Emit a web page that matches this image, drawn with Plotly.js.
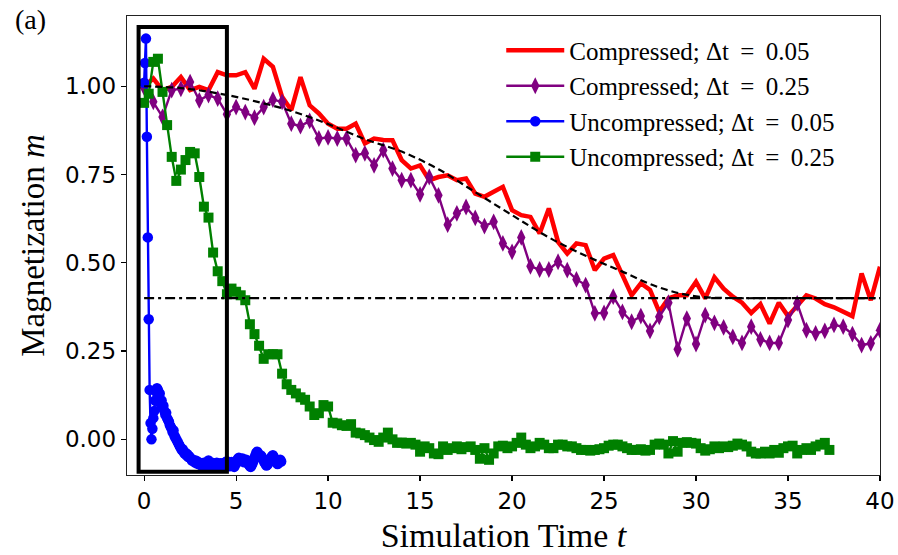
<!DOCTYPE html>
<html>
<head>
<meta charset="utf-8">
<script src="https://cdn.plot.ly/plotly-3.0.1.min.js"></script>
<style>html,body{margin:0;padding:0;background:#fff;}#chart{width:898px;height:555px;}</style>
</head>
<body>
<div id="chart"></div>
<script>
// ---- data ----
const seriesNames = ["Compressed; Δt\u2009 = \u20090.05", "Compressed; Δt\u2009 = \u20090.25", "Uncompressed; Δt\u2009 = \u20090.05", "Uncompressed; Δt\u2009 = \u20090.25"];

const redStart = 0, redStep = 0.5;
const redM = [1.000,1.022,0.989,0.998,1.026,0.989,0.998,0.989,1.040,1.031,
  1.031,1.040,0.993,1.078,1.055,0.970,0.932,1.026,0.946,0.923,
  0.894,0.880,0.880,0.894,0.838,0.852,0.848,0.847,0.791,0.767,
  0.776,0.734,0.743,0.748,0.734,0.739,0.696,0.687,0.701,0.715,
  0.649,0.635,0.630,0.583,0.654,0.559,0.526,0.555,0.550,0.479,
  0.512,0.522,0.465,0.408,0.442,0.423,0.361,0.399,0.408,0.408,
  0.446,0.399,0.459,0.427,0.404,0.387,0.358,0.383,0.328,0.387,
  0.349,0.380,0.408,0.399,0.383,0.374,0.361,0.349,0.470,0.394,0.489];

const purpleStart = 0, purpleStep = 0.5;
const purpleM = [0.996,0.956,0.913,0.989,0.993,1.012,0.960,0.975,0.965,0.921,
  0.941,0.927,0.911,0.941,0.962,0.956,0.894,0.887,0.902,0.852,
  0.855,0.852,0.852,0.805,0.810,0.776,0.819,0.767,0.734,0.734,
  0.694,0.743,0.691,0.608,0.640,0.658,0.627,0.604,0.616,0.555,
  0.531,0.572,0.490,0.481,0.481,0.503,0.479,0.453,0.437,0.357,
  0.358,0.404,0.361,0.333,0.349,0.307,0.347,0.387,0.255,0.342,
  0.270,0.352,0.330,0.317,0.290,0.273,0.319,0.283,0.273,0.273,
  0.338,0.385,0.309,0.300,0.307,0.324,0.319,0.298,0.267,0.272,0.309];

const blueStart = 0, blueStep = 0.05;
const blueM = [1.010,1.066,1.135,0.857,0.572,0.340,0.140,0.046,0.000,0.030,
  0.060,0.080,0.110,0.135,0.145,0.140,0.120,0.130,0.100,0.110,
  0.090,0.095,0.080,0.070,0.075,0.060,0.055,0.050,0.040,0.035,
  0.030,0.020,0.025,0.010,0.005,0.000,-0.005,-0.010,-0.015,-0.020,
  -0.025,-0.030,-0.028,-0.035,-0.040,-0.038,-0.045,-0.042,-0.050,-0.048,
  -0.052,-0.055,-0.060,-0.058,-0.062,-0.065,-0.060,-0.068,-0.063,-0.070,
  -0.066,-0.072,-0.068,-0.075,-0.070,-0.066,-0.073,-0.078,-0.070,-0.064,
  -0.060,-0.066,-0.072,-0.075,-0.070,-0.067,-0.074,-0.078,-0.071,-0.066,
  -0.070,-0.075,-0.072,-0.068,-0.074,-0.078,-0.072,-0.066,-0.070,-0.065,
  -0.062,-0.068,-0.072,-0.076,-0.070,-0.064,-0.068,-0.073,-0.078,-0.072,
  -0.066,-0.060,-0.055,-0.052,-0.058,-0.062,-0.058,-0.054,-0.060,-0.065,
  -0.062,-0.058,-0.063,-0.068,-0.072,-0.076,-0.078,-0.073,-0.068,-0.060,
  -0.052,-0.045,-0.038,-0.035,-0.040,-0.045,-0.050,-0.046,-0.050,-0.055,
  -0.060,-0.066,-0.070,-0.074,-0.072,-0.068,-0.064,-0.058,-0.052,-0.048,
  -0.045,-0.050,-0.056,-0.062,-0.066,-0.070,-0.068,-0.062,-0.058,-0.063];

const greenStart = 0, greenStep = 0.25;
const greenM = [0.953,0.979,1.069,1.078,0.984,0.890,0.800,0.732,0.764,0.791,
  0.814,0.810,0.743,0.659,0.628,0.529,0.476,0.448,0.411,0.427,
  0.418,0.408,0.394,0.326,0.298,0.265,0.228,0.241,0.241,0.241,
  0.186,0.156,0.140,0.130,0.119,0.112,0.093,0.069,0.074,0.097,
  0.093,0.047,0.045,0.040,0.038,0.043,0.019,0.017,0.012,0.005,
  -0.002,-0.007,
  0.005,0.019,0.000,-0.010,-0.009,-0.012,-0.010,-0.015,-0.035,-0.020,
  -0.025,-0.040,-0.042,-0.020,-0.030,-0.025,-0.020,-0.028,-0.022,-0.020,
  -0.030,-0.055,-0.025,-0.058,-0.040,-0.020,-0.018,-0.025,-0.020,-0.010,
  0.005,-0.015,-0.025,-0.020,-0.010,-0.015,-0.025,-0.025,-0.015,-0.015,
  -0.020,-0.020,-0.025,-0.030,-0.030,-0.032,-0.030,-0.028,-0.025,-0.018,
  -0.015,-0.015,-0.020,-0.025,-0.030,-0.030,-0.028,-0.032,-0.030,-0.015,
  -0.012,-0.015,-0.040,-0.005,-0.035,-0.010,-0.008,-0.010,-0.012,-0.025,
  -0.032,-0.028,-0.020,-0.025,-0.020,-0.022,-0.018,-0.012,-0.015,-0.020,
  -0.035,-0.040,-0.040,-0.035,-0.040,-0.030,-0.038,-0.025,-0.020,-0.018,
  -0.040,-0.030,-0.025,-0.030,-0.020,-0.015,-0.010,-0.030];

// reference (exact) curve and equilibrium level
const exactT = [0,2,4,6,8,10,12,14,16,18,20,22,24,26,28,30,32,34,36,38,40];
const exactM = [1.000,0.995,0.980,0.958,0.930,0.893,0.850,0.815,0.765,0.700,0.635,0.572,0.520,0.475,0.430,0.405,0.400,0.400,0.400,0.400,0.400];
const eqT = [0, 40];
const eqM = [0.40, 0.40];

const xTicks = [0,5,10,15,20,25,30,35,40];
const yTicks = [0,0.25,0.5,0.75,1.0];
const yTickText = ["0.00","0.25","0.50","0.75","1.00"];

// time grids from step index
function grid(start, step, n){ const a=[]; for(let i=0;i<n;i++) a.push(+(start+i*step).toFixed(4)); return a; }

const serif = "Liberation Serif, Times New Roman, serif";
const sans = "DejaVu Sans, sans-serif";

const traces = [
  {x: grid(redStart, redStep, redM.length), y: redM, name: seriesNames[0], mode: "lines",
   line: {color: "#ff0000", width: 4.5}, legendgroup: "a"},
  {x: grid(purpleStart, purpleStep, purpleM.length), y: purpleM, name: seriesNames[1], mode: "lines+markers",
   line: {color: "#800080", width: 2.4}, marker: {symbol: "diamond-tall", size: 12, color: "#800080"}, legendgroup: "b"},
  {x: grid(blueStart, blueStep, blueM.length), y: blueM, name: seriesNames[2], mode: "lines+markers",
   line: {color: "#0000ff", width: 2.4}, marker: {symbol: "circle", size: 10.5, color: "#0000ff"}, legendgroup: "c"},
  {x: grid(greenStart, greenStep, greenM.length), y: greenM, name: seriesNames[3], mode: "lines+markers",
   line: {color: "#008000", width: 2.4}, marker: {symbol: "square", size: 10, color: "#008000"}, legendgroup: "d"},
  {x: exactT, y: exactM, mode: "lines", line: {color: "#000", width: 2.2, dash: "7px,4px", shape: "spline"}, showlegend: false, hoverinfo: "skip"},
  {x: eqT, y: eqM, mode: "lines", line: {color: "#000", width: 2.2, dash: "10px,4px,3px,4px"}, showlegend: false, hoverinfo: "skip"}
];

const layout = {
  width: 898, height: 555,
  margin: {l: 127, r: 18, t: 16, b: 80},
  paper_bgcolor: "#fff", plot_bgcolor: "#fff",
  showlegend: true,
  legend: {x: 0.497, xanchor: "left", y: 0.975, yanchor: "top", bgcolor: "rgba(255,255,255,0)",
           font: {family: serif, size: 25, color: "#000"}, tracegroupgap: 4, traceorder: "normal", itemwidth: 58},
  xaxis: {range: [-0.93, 40], tickvals: xTicks, ticks: "outside", ticklen: 5, tickwidth: 1.2, tickcolor: "#000",
          showline: true, mirror: true, linecolor: "#222", linewidth: 1.3, showgrid: false, zeroline: false,
          tickfont: {family: sans, size: 23, color: "#000"},
          title: {text: "Simulation Time <i>t</i>", font: {family: serif, size: 34, color: "#000"}, standoff: 10}},
  yaxis: {range: [-0.101, 1.199], tickvals: yTicks, ticktext: yTickText, ticks: "outside", ticklen: 5, tickwidth: 1.2, tickcolor: "#000",
          showline: true, mirror: true, linecolor: "#222", linewidth: 1.3, showgrid: false, zeroline: false,
          tickfont: {family: sans, size: 23, color: "#000"},
          title: {text: "Magnetization <i>m</i>", font: {family: serif, size: 33, color: "#000"}, standoff: 10}},
  shapes: [{type: "rect", xref: "x", yref: "y", x0: -0.3, x1: 4.5, y0: -0.092, y1: 1.168,
            line: {color: "#000", width: 4}, fillcolor: "rgba(0,0,0,0)"}],
  annotations: [{text: "(a)", xref: "paper", yref: "paper", x: -0.152, y: 1.03, xanchor: "left", yanchor: "top",
                 showarrow: false, font: {family: serif, size: 28, color: "#000"}}]
};

Plotly.newPlot("chart", traces, layout, {displayModeBar: false, staticPlot: true});
</script>
</body>
</html>
